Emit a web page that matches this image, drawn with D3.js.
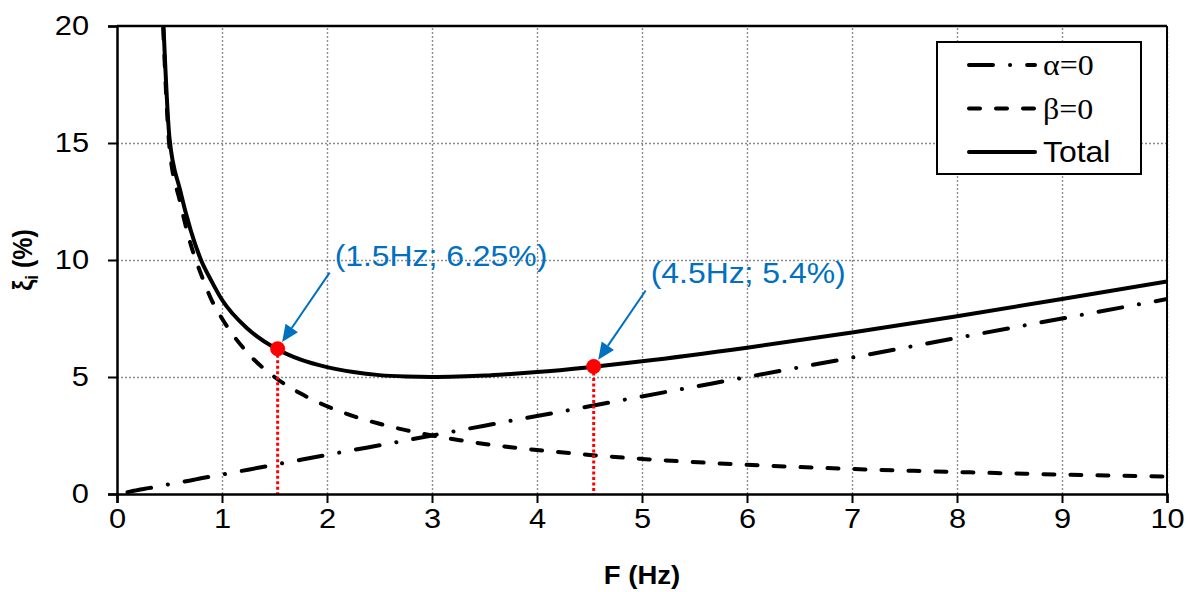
<!DOCTYPE html>
<html>
<head>
<meta charset="utf-8">
<script src="https://cdn.jsdelivr.net/npm/d3@7"></script>
<style>
body { margin: 0; background: #fff; }
text { font-family: "Liberation Sans", Arial, sans-serif; }
</style>
</head>
<body>
<svg id="chart" width="1192" height="592"></svg>
<script>
// values
var freq      = [0.1, 0.2, 0.3, 0.44, 0.5, 0.6, 0.7, 0.8, 0.9, 1.0, 1.25, 1.5, 1.75, 2.0, 2.25, 2.5, 2.75, 3.0, 3.25, 3.5, 3.75, 4.0, 4.5, 5.0, 6.0, 7.0, 8.0, 9.0, 10.0];
var alphaZero = [0.08, 0.17, 0.25, 0.37, 0.42, 0.5, 0.58, 0.67, 0.75, 0.83, 1.04, 1.25, 1.46, 1.67, 1.88, 2.08, 2.29, 2.5, 2.71, 2.92, 3.13, 3.33, 3.75, 4.17, 5.0, 5.83, 6.67, 7.5, 8.33];
var betaZero  = [null, null, null, 19.9, 14.8, 12.5, 10.7, 9.4, 8.3, 7.5, 6.0, 5.0, 4.29, 3.75, 3.33, 3.0, 2.73, 2.5, 2.31, 2.14, 2.0, 1.88, 1.67, 1.5, 1.25, 1.07, 0.94, 0.83, 0.75];
var total     = [null, null, null, 20.3, 15.2, 13.0, 11.3, 10.0, 9.1, 8.3, 7.04, 6.25, 5.74, 5.42, 5.21, 5.08, 5.02, 5.0, 5.02, 5.06, 5.13, 5.21, 5.42, 5.67, 6.25, 6.9, 7.6, 8.33, 9.08];

var markFreq   = [1.53, 4.54];
var markVal    = [6.21, 5.45];
var markLabels = ["(1.5Hz; 6.25%)", "(4.5Hz; 5.4%)"];

var xTicks = [0, 1, 2, 3, 4, 5, 6, 7, 8, 9, 10];
var yTicks = [0, 5, 10, 15, 20];
var seriesNames = ["\u03b1=0", "\u03b2=0", "Total"];

var params = {
    left: 117, right: 1167, top: 26, bottom: 494,
    stretch: 1.1,
    blue: "#0070C0"
};

var svg = d3.select("#chart");

var xScale = d3.scaleLinear().domain([0, 10]).range([params.left, params.right]);
var yScale = d3.scaleLinear().domain([0, 20]).range([params.bottom, params.top]);

// the reference text is a little wider than it is tall
function wideText(sel, x, y, str, size, opts) {
    opts = opts || {};
    var t = sel.append("text")
        .attr("transform", "translate(" + x + "," + y + ") scale(" + params.stretch + ",1)")
        .style("font-size", size + "px")
        .style("font-weight", opts.weight || "normal")
        .attr("text-anchor", opts.anchor || "start")
        .attr("fill", opts.fill || "#000")
        .text(str);
    if (opts.family) t.style("font-family", opts.family);
    return t;
}

// grid
var gridX = svg.append("g")
    .attr("transform", "translate(0," + params.bottom + ")")
    .call(d3.axisBottom(xScale).tickValues(xTicks.slice(1)).tickSize(-(params.bottom - params.top)).tickFormat(""));
var gridY = svg.append("g")
    .attr("transform", "translate(" + params.left + ",0)")
    .call(d3.axisLeft(yScale).tickValues(yTicks.slice(1, -1)).tickSize(-(params.right - params.left)).tickFormat(""));
[gridX, gridY].forEach(function(g) {
    g.select(".domain").remove();
    g.selectAll(".tick line")
        .attr("stroke", "#8c8c8c")
        .attr("stroke-width", 1.4)
        .attr("stroke-dasharray", "2,2");
});

svg.append("clipPath").attr("id", "plot-clip")
    .append("rect")
    .attr("x", params.left).attr("y", params.top)
    .attr("width", params.right - params.left).attr("height", params.bottom - params.top);

var series = [
    { name: seriesNames[0], values: alphaZero, dash: "24,17,0.1,17" },
    { name: seriesNames[1], values: betaZero,  dash: "11,16" },
    { name: seriesNames[2], values: total,     dash: null }
];

var line = d3.line()
    .defined(function(d) { return d.v !== null; })
    .curve(d3.curveMonotoneX)
    .x(function(d) { return xScale(d.f); })
    .y(function(d) { return yScale(d.v); });

var plot = svg.append("g").attr("clip-path", "url(#plot-clip)");
plot.selectAll("path.series")
    .data(series)
    .enter()
    .append("path")
    .attr("class", "series")
    .attr("d", function(s) {
        return line(freq.map(function(f, i) { return { f: f, v: s.values[i] }; }));
    })
    .attr("fill", "none")
    .attr("stroke", "#000")
    .attr("stroke-width", 4)
    .attr("stroke-linecap", "round")
    .attr("stroke-linejoin", "round")
    .attr("stroke-dasharray", function(s) { return s.dash; });

// red drop lines and markers
var marks = markFreq.map(function(f, i) { return { f: f, v: markVal[i], label: markLabels[i] }; });

svg.selectAll("line.drop")
    .data(marks)
    .enter()
    .append("line")
    .attr("class", "drop")
    .attr("x1", function(d) { return xScale(d.f); })
    .attr("x2", function(d) { return xScale(d.f); })
    .attr("y1", function(d) { return yScale(d.v) + 6; })
    .attr("y2", yScale(0))
    .attr("stroke", "#ff0000")
    .attr("stroke-width", 3)
    .attr("stroke-dasharray", "3,2.5");

svg.selectAll("circle.mark")
    .data(marks)
    .enter()
    .append("circle")
    .attr("class", "mark")
    .attr("cx", function(d) { return xScale(d.f); })
    .attr("cy", function(d) { return yScale(d.v); })
    .attr("r", 7.5)
    .attr("fill", "#ff0000");

// callout arrows and labels
marks.forEach(function(d) {
    var mx = xScale(d.f), my = yScale(d.v);
    var sx = mx + 52, sy = my - 76;
    var len = Math.sqrt(52 * 52 + 76 * 76);
    var ux = (mx - sx) / len, uy = (my - sy) / len;
    var tx = mx - ux * 8, ty = my - uy * 8;
    var headLen = 17, headW = 7.5;
    var bx = tx - ux * headLen, by = ty - uy * headLen;
    svg.append("line")
        .attr("x1", sx).attr("y1", sy).attr("x2", bx).attr("y2", by)
        .attr("stroke", params.blue).attr("stroke-width", 2);
    svg.append("polygon")
        .attr("points", [
            [tx, ty],
            [bx - uy * headW, by + ux * headW],
            [bx + uy * headW, by - ux * headW]
        ].map(function(p) { return p.join(","); }).join(" "))
        .attr("fill", params.blue);
    wideText(svg, mx + 57, my - 83, d.label, 29, { fill: params.blue });
});

// axes
var xAxis = svg.append("g")
    .attr("transform", "translate(0," + params.bottom + ")")
    .call(d3.axisBottom(xScale).tickValues(xTicks).tickSize(9).tickPadding(5).tickFormat(d3.format("d")));
var yAxis = svg.append("g")
    .attr("transform", "translate(" + params.left + ",0)")
    .call(d3.axisLeft(yScale).tickValues(yTicks).tickSize(9).tickFormat(d3.format("d")));

[xAxis, yAxis].forEach(function(g) {
    g.select(".domain").attr("stroke", "#000").attr("stroke-width", 2.5);
    g.selectAll(".tick line").attr("stroke", "#000").attr("stroke-width", 2);
    g.selectAll(".tick text")
        .style("font-size", "28px")
        .attr("fill", "#000");
});
xAxis.selectAll(".tick text").attr("transform", "scale(" + params.stretch + ",1)")
    .attr("x", 0);
yAxis.selectAll(".tick text").attr("transform", "scale(" + params.stretch + ",1)")
    .attr("x", -28 / params.stretch);

// top and right border
svg.append("line")
    .attr("x1", params.left).attr("x2", params.right)
    .attr("y1", params.top).attr("y2", params.top)
    .attr("stroke", "#000").attr("stroke-width", 2.5);
svg.append("line")
    .attr("x1", params.right).attr("x2", params.right)
    .attr("y1", params.top).attr("y2", params.bottom)
    .attr("stroke", "#000").attr("stroke-width", 2);

// axis titles
wideText(svg, (params.left + params.right) / 2, 584, "F (Hz)", 25, { weight: "bold", anchor: "middle" });

var yTitle = svg.append("text")
    .attr("transform", "translate(32," + yScale(10) + ") rotate(-90) scale(1," + params.stretch + ")")
    .attr("text-anchor", "middle")
    .style("font-size", "25px")
    .style("font-weight", "bold");
yTitle.append("tspan").text("\u03be");
yTitle.append("tspan").attr("dy", 5).style("font-size", "17px").text("i");
yTitle.append("tspan").attr("dy", -5).text(" (%)");

// legend
var legend = svg.append("g");
legend.append("rect")
    .attr("x", 937).attr("y", 42)
    .attr("width", 204).attr("height", 132)
    .attr("fill", "#fff")
    .attr("stroke", "#000")
    .attr("stroke-width", 2);

var rowY = [65, 108.5, 152];
series.forEach(function(s, i) {
    legend.append("line")
        .attr("x1", 969).attr("x2", 1035)
        .attr("y1", rowY[i]).attr("y2", rowY[i])
        .attr("stroke", "#000")
        .attr("stroke-width", 4)
        .attr("stroke-linecap", "round")
        .attr("stroke-dasharray", s.dash);
    var serif = i < 2 ? "\"Liberation Serif\", \"Times New Roman\", serif" : null;
    wideText(legend, 1043, rowY[i] + 10, s.name, 29, { family: serif });
});
</script>
</body>
</html>
